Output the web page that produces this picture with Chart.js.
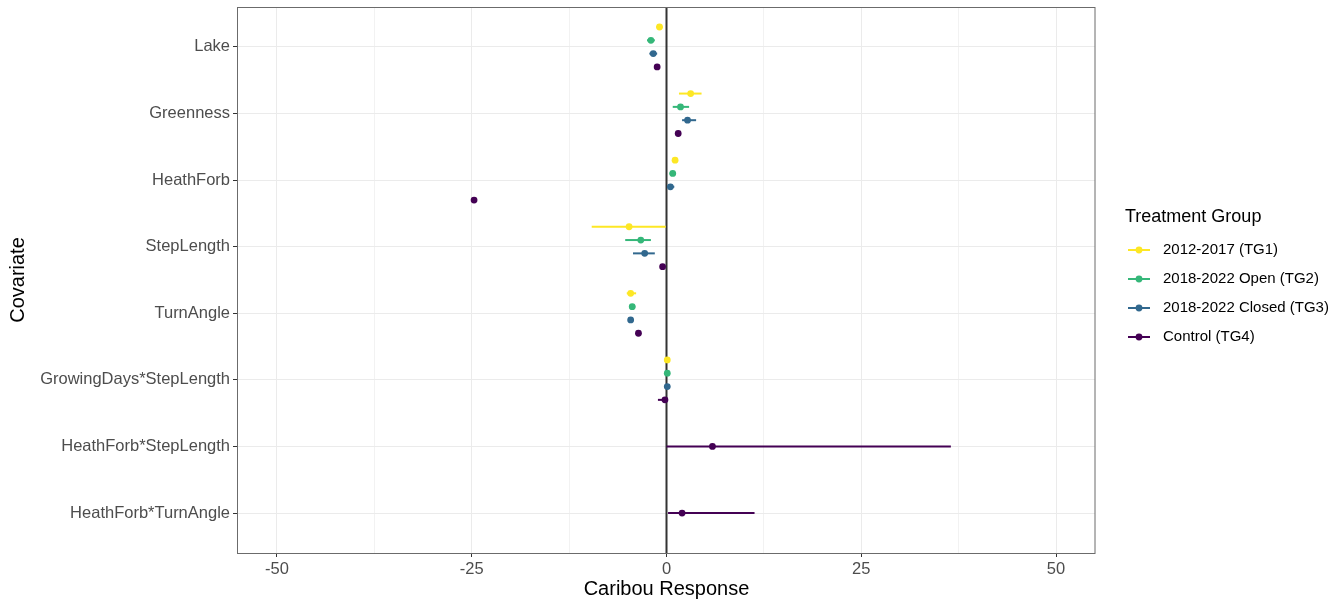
<!DOCTYPE html>
<html>
<head>
<meta charset="utf-8">
<title>Caribou Response</title>
<script src="https://cdn.jsdelivr.net/npm/chart.js@4.4.1/dist/chart.umd.min.js"></script>
<style>
    html, body { margin: 0; padding: 0; background: #ffffff; }
    #wrap { width: 1340px; height: 603px; }
</style>
</head>
<body>
<div id="wrap"><canvas id="effectChart" width="1340" height="603"></canvas></div>
<script>

const covariates = [
    "Lake", "Greenness", "HeathForb", "StepLength", "TurnAngle",
    "GrowingDays*StepLength", "HeathForb*StepLength", "HeathForb*TurnAngle"
];

const groupNames = [
    "2012-2017 (TG1)", "2018-2022 Open (TG2)",
    "2018-2022 Closed (TG3)", "Control (TG4)"
];

const groupColors = ["#fde725", "#35b779", "#31688e", "#440154"];

// coefficient estimate and interval per covariate, null = term not in model
const tg1Est  = [-0.9, 3.1, 1.1, -4.8, -4.6,  0.1, null, null];
const tg1Low  = [-1.3, 1.6, 0.8, -9.6, -5.1, -0.1, null, null];
const tg1High = [-0.5, 4.5, 1.4, -0.1, -3.9,  0.3, null, null];

const tg2Est  = [-2.0, 1.8, 0.8, -3.3, -4.4,  0.1, null, null];
const tg2Low  = [-2.5, 0.8, 0.4, -5.3, -4.8, -0.1, null, null];
const tg2High = [-1.5, 2.9, 1.2, -2.0, -4.0,  0.3, null, null];

const tg3Est  = [-1.7, 2.7, 0.5, -2.8, -4.6,  0.1, null, null];
const tg3Low  = [-2.2, 2.0, 0.1, -4.3, -4.9, -0.1, null, null];
const tg3High = [-1.2, 3.8, 1.0, -1.5, -4.3,  0.3, null, null];

const tg4Est  = [-1.2, 1.5, -24.7, -0.5, -3.6, -0.2,  5.9,  2.0];
const tg4Low  = [-1.5, 1.2, -25.0, -0.8, -3.9, -1.1,  0.0,  0.2];
const tg4High = [-0.9, 1.8, -24.4, -0.2, -3.3,  0.0, 36.5, 11.3];

const xMajor = [-50, -25, 0, 25, 50];
const xMinor = [-37.5, -12.5, 12.5, 37.5];

const groupEst = [tg1Est, tg2Est, tg3Est, tg4Est];
const groupLow = [tg1Low, tg2Low, tg3Low, tg4Low];
const groupHigh = [tg1High, tg2High, tg3High, tg4High];

// spread the groups of one covariate over 0.8 of a row
function dodgeOffset(row, group) {

    const present = [];

    groupEst.forEach((est, g) => {
        if (est[row] !== null) present.push(g);
    });

    const w = 0.8 / present.length;

    return -0.4 + w * (present.indexOf(group) + 0.5);
}

const datasets = groupNames.map((name, g) => {

    const points = [];

    covariates.forEach((c, i) => {

        if (groupEst[g][i] === null) return;

        points.push({
            x: groupEst[g][i],
            y: i + dodgeOffset(i, g),
            lo: groupLow[g][i],
            hi: groupHigh[g][i]
        });
    });

    return {
        label: name,
        data: points,
        backgroundColor: groupColors[g],
        borderColor: groupColors[g],
        pointRadius: 3.4,
        pointHoverRadius: 3.4,
        pointBorderWidth: 0
    };
});

// zero line and horizontal interval bars
const errorBars = {

    id: "errorBars",

    beforeDatasetsDraw(chart) {

        const ctx = chart.ctx;
        const x = chart.scales.x;
        const area = chart.chartArea;

        ctx.save();

        const x0 = x.getPixelForValue(0);

        ctx.strokeStyle = "#333333";
        ctx.lineWidth = 2;
        ctx.beginPath();
        ctx.moveTo(x0, area.top);
        ctx.lineTo(x0, area.bottom);
        ctx.stroke();

        chart.data.datasets.forEach((ds, d) => {

            const meta = chart.getDatasetMeta(d);

            ctx.strokeStyle = ds.borderColor;
            ctx.lineWidth = 2;

            ds.data.forEach((p, i) => {

                const y = meta.data[i].y;

                ctx.beginPath();
                ctx.moveTo(x.getPixelForValue(p.lo), y);
                ctx.lineTo(x.getPixelForValue(p.hi), y);
                ctx.stroke();
            });
        });

        ctx.restore();
    }
};

// panel frame and the group key on the right
const panelAndKey = {

    id: "panelAndKey",

    afterDraw(chart) {

        const ctx = chart.ctx;
        const area = chart.chartArea;

        ctx.save();

        ctx.strokeStyle = "#6b6b6b";
        ctx.lineWidth = 1;
        ctx.strokeRect(
            Math.round(area.left) - 0.5,
            Math.round(area.top) + 0.5,
            Math.round(area.right - area.left) + 0.5,
            Math.round(area.bottom - area.top)
        );

        const keyX = area.right + 30;

        ctx.fillStyle = "#000000";
        ctx.textBaseline = "middle";
        ctx.textAlign = "left";
        ctx.font = "18px 'Liberation Sans', Arial, sans-serif";
        ctx.fillText("Treatment Group", keyX, 217);

        ctx.font = "15px 'Liberation Sans', Arial, sans-serif";

        chart.data.datasets.forEach((ds, i) => {

            const y = 250 + i * 29;

            ctx.strokeStyle = ds.borderColor;
            ctx.lineWidth = 2;
            ctx.beginPath();
            ctx.moveTo(keyX + 3, y);
            ctx.lineTo(keyX + 25, y);
            ctx.stroke();

            ctx.fillStyle = ds.backgroundColor;
            ctx.beginPath();
            ctx.arc(keyX + 14, y, 3.4, 0, Math.PI * 2);
            ctx.fill();

            ctx.fillStyle = "#000000";
            ctx.fillText(ds.label, keyX + 38, y);
        });

        ctx.restore();
    }
};

Chart.defaults.font.family = "'Liberation Sans', Arial, sans-serif";

const effectChart = new Chart(document.getElementById("effectChart"), {

    type: "scatter",

    data: { datasets: datasets },

    options: {

        responsive: false,

        animation: false,

        layout: {
            padding: { top: 7, right: 245, bottom: 0, left: 0 }
        },

        plugins: {
            legend: { display: false },
            tooltip: { enabled: false }
        },

        scales: {

            x: {
                type: "linear",
                min: -55,
                max: 55,
                afterBuildTicks: scale => {
                    scale.ticks = xMajor.concat(xMinor)
                        .sort((a, b) => a - b)
                        .map(v => ({ value: v }));
                },
                afterFit: scale => {
                    scale.height = 50;
                },
                border: { display: false },
                grid: {
                    color: c => (c.tick && xMajor.includes(c.tick.value)) ? "#ebebeb" : "#f2f2f2",
                    lineWidth: 1,
                    tickLength: 4,
                    tickColor: c => (c.tick && xMajor.includes(c.tick.value)) ? "#333333" : "rgba(0,0,0,0)"
                },
                ticks: {
                    autoSkip: false,
                    maxRotation: 0,
                    padding: 3,
                    color: "#4d4d4d",
                    font: { size: 16.5 },
                    callback: v => xMajor.includes(v) ? String(v) : ""
                },
                title: {
                    display: true,
                    text: "Caribou Response",
                    color: "#000000",
                    font: { size: 20 },
                    padding: { top: 0, bottom: 2 }
                }
            },

            y: {
                type: "linear",
                reverse: true,
                min: -0.6,
                max: covariates.length - 0.4,
                afterBuildTicks: scale => {
                    scale.ticks = covariates.map((c, i) => ({ value: i }));
                },
                afterFit: scale => {
                    scale.width = 238;
                    // rows sit well inside the panel, no room needed for label overhang
                    scale.paddingTop = 0;
                    scale.paddingBottom = 0;
                },
                border: { display: false },
                grid: {
                    color: "#ebebeb",
                    lineWidth: 1,
                    tickLength: 5,
                    tickColor: "#333333"
                },
                ticks: {
                    autoSkip: false,
                    padding: 3,
                    color: "#4d4d4d",
                    font: { size: 16.5 },
                    callback: v => covariates[v]
                },
                title: {
                    display: true,
                    text: "Covariate",
                    color: "#000000",
                    font: { size: 20 },
                    padding: { top: 6, bottom: 0 }
                }
            }
        }
    },

    plugins: [errorBars, panelAndKey]
});
</script>
</body>
</html>
